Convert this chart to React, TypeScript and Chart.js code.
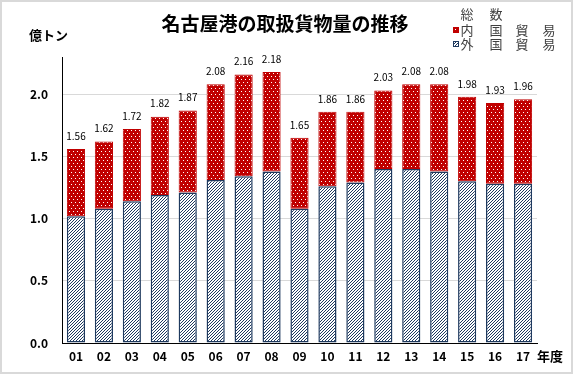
import React, { useEffect, useRef } from "react";
import { Chart, registerables } from "chart.js";

Chart.register(...registerables);

const categories = ["01","02","03","04","05","06","07","08","09","10","11","12","13","14","15","16","17"];
const foreignTrade = [1.02,1.08,1.14,1.19,1.21,1.31,1.34,1.38,1.08,1.26,1.29,1.40,1.40,1.38,1.30,1.28,1.28];
const domesticTrade = [0.54,0.54,0.58,0.63,0.66,0.77,0.82,0.80,0.57,0.60,0.57,0.63,0.68,0.70,0.68,0.65,0.68];
const totals = [1.56,1.62,1.72,1.82,1.87,2.08,2.16,2.18,1.65,1.86,1.86,2.03,2.08,2.08,1.98,1.93,1.96];
const yTicks = [0, 0.5, 1.0, 1.5, 2.0];

const TITLE = "名古屋港の取扱貨物量の推移";
const Y_UNIT = "億トン";
const X_UNIT = "年度";
const LEGEND_TOTAL = ["総", "数"];
const LEGEND_DOMESTIC = ["内", "国", "貿", "易"];
const LEGEND_FOREIGN = ["外", "国", "貿", "易"];

const RED = "#c00000";
const NAVY = "#1f3a5f";
const JP = '"Noto Sans CJK JP", "Noto Sans", sans-serif';

function makeDots(): CanvasPattern | string {
  const c = document.createElement("canvas");
  c.width = 4; c.height = 6;
  const g = c.getContext("2d");
  if (!g) return RED;
  g.fillStyle = RED; g.fillRect(0, 0, 4, 6);
  g.fillStyle = "#ffffff";
  g.fillRect(1, 1, 1, 1);
  g.fillRect(3, 4, 1, 1);
  return g.createPattern(c, "repeat") || RED;
}

function makeHatch(): CanvasPattern | string {
  const c = document.createElement("canvas");
  c.width = 3; c.height = 3;
  const g = c.getContext("2d");
  if (!g) return "#fff";
  g.fillStyle = "#ffffff"; g.fillRect(0, 0, 3, 3);
  g.fillStyle = NAVY;
  for (let i = 0; i < 3; i++) g.fillRect(i, 2 - i, 1, 1);
  return g.createPattern(c, "repeat") || "#fff";
}

export default function App() {
  const ref = useRef<HTMLCanvasElement | null>(null);
  useEffect(() => {
    if (!ref.current) return;
    const dots = makeDots();
    const hatch = makeHatch();
    const overlay = {
      id: "overlay",
      afterDatasetsDraw(chart: any) {
        const ctx = chart.ctx;
        const xs = chart.scales.x;
        const ys = chart.scales.y;
        ctx.save();
        ctx.fillStyle = "#000";
        ctx.font = `10px ${JP}`;
        ctx.textAlign = "center";
        ctx.textBaseline = "middle";
        totals.forEach((t, i) => {
          ctx.fillText(t.toFixed(2), xs.getPixelForValue(i), ys.getPixelForValue(t) - 13);
        });
        ctx.restore();
      },
      afterDraw(chart: any) {
        const ctx = chart.ctx;
        ctx.save();
        ctx.strokeStyle = "#d9d9d9";
        ctx.lineWidth = 2;
        ctx.strokeRect(1, 1, 571, 372);
        ctx.fillStyle = "#000";
        ctx.font = `bold 19px ${JP}`;
        ctx.textAlign = "center";
        ctx.textBaseline = "middle";
        ctx.fillText(TITLE, 285, 24);
        ctx.font = `bold 13px ${JP}`;
        ctx.textAlign = "left";
        ctx.fillText(Y_UNIT, 29, 35);
        ctx.fillText(X_UNIT, 537, 356);
        ctx.fillStyle = "#404040";
        ctx.font = `13px ${JP}`;
        ctx.textAlign = "center";
        const cols = [467, 496, 522, 549];
        LEGEND_TOTAL.forEach((ch, i) => ctx.fillText(ch, cols[i], 14));
        LEGEND_DOMESTIC.forEach((ch, i) => ctx.fillText(ch, cols[i], 30));
        LEGEND_FOREIGN.forEach((ch, i) => ctx.fillText(ch, cols[i], 44));
        ctx.fillStyle = RED;
        ctx.fillRect(453, 27, 6, 6);
        ctx.fillStyle = "#fff";
        ctx.fillRect(455, 29, 1, 1);
        ctx.fillStyle = hatch;
        ctx.fillRect(453, 41, 6, 6);
        ctx.strokeStyle = NAVY;
        ctx.lineWidth = 1;
        ctx.strokeRect(453.5, 41.5, 5, 5);
        ctx.restore();
      },
    };
    const chart = new Chart(ref.current, {
      type: "bar",
      data: {
        labels: categories,
        datasets: [
          {
            label: "外国貿易",
            data: foreignTrade,
            backgroundColor: hatch as any,
            borderColor: NAVY,
            borderWidth: 1.5,
            borderSkipped: false,
          },
          {
            label: "内国貿易",
            data: domesticTrade,
            backgroundColor: dots as any,
            borderColor: RED,
            borderWidth: 1,
            borderSkipped: false,
          },
        ],
      },
      options: {
        responsive: false,
        animation: false,
        layout: { padding: { left: 0, top: 57, right: 36, bottom: 0 } },
        plugins: { legend: { display: false }, tooltip: { enabled: false }, title: { display: false } },
        datasets: { bar: { categoryPercentage: 1, barPercentage: 0.65 } },
        scales: {
          x: {
            stacked: true,
            grid: { display: false, drawTicks: false },
            border: { display: true, color: "#000", width: 1 },
            ticks: { color: "#000", font: { family: JP, size: 12, weight: "bold" }, padding: 6, maxRotation: 0 },
            afterFit: (s: any) => { s.height = 31; },
          },
          y: {
            stacked: true,
            min: 0,
            max: 2.3,
            afterBuildTicks: (s: any) => { s.ticks = yTicks.map((v) => ({ value: v })); },
            grid: { color: "#d9d9d9", lineWidth: 1, drawTicks: false },
            border: { display: true, color: "#000", width: 1 },
            ticks: {
              color: "#000",
              font: { family: JP, size: 12, weight: "bold" },
              padding: 14,
              callback: (v: any) => Number(v).toFixed(1),
            },
            afterFit: (s: any) => { s.width = 62; },
          },
        },
      },
      plugins: [overlay],
    });
    return () => chart.destroy();
  }, []);
  return (
    <div style={{ position: "fixed", left: 0, top: 0, width: 573, height: 374, background: "#fff" }}>
      <canvas ref={ref} width={573} height={374} />
    </div>
  );
}
